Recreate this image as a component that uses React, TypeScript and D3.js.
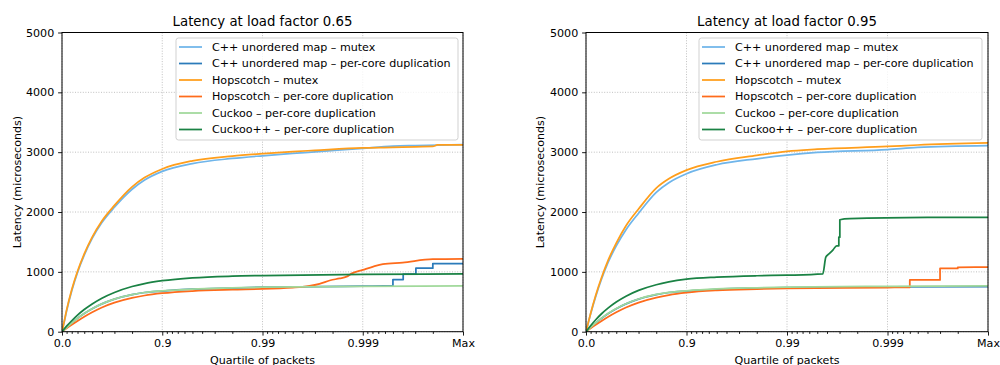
import { useEffect, useRef } from 'react';
import * as d3 from 'd3';

const SERIES_LABELS = [
  'C++ unordered map \u2013 mutex',
  'C++ unordered map \u2013 per-core duplication',
  'Hopscotch \u2013 mutex',
  'Hopscotch \u2013 per-core duplication',
  'Cuckoo \u2013 per-core duplication',
  'Cuckoo++ \u2013 per-core duplication',
];
const SERIES_COLORS = ['#6fb5ea', '#2b7bba', '#ff9e1b', '#fe6b1b', '#a1d99b', '#1a8244'];

const TITLES = ['Latency at load factor 0.65', 'Latency at load factor 0.95'];
const X_TICK_QUANTS = [0, 0.9, 0.99, 0.999, 0.9999];
const X_TICK_LABELS = ['0.0', '0.9', '0.99', '0.999', 'Max'];
const Y_TICKS = [0, 1000, 2000, 3000, 4000, 5000];

// [quartile, latency in microseconds]
const lf65CppMutex = [[0, 0], [0.05, 165], [0.1, 345], [0.2, 680], [0.3, 990], [0.4, 1280], [0.5, 1560], [0.6, 1825], [0.7, 2080], [0.8, 2380], [0.85, 2535], [0.9, 2680], [0.95, 2810], [0.98, 2895], [0.99, 2940], [0.995, 2980], [0.997, 3005], [0.999, 3065], [0.9995, 3100], [0.9997, 3110], [0.9999, 3125]];
const lf65CppDup = [[0, 0], [0.1, 70], [0.2, 145], [0.3, 225], [0.4, 305], [0.5, 385], [0.6, 465], [0.7, 545], [0.8, 620], [0.85, 655], [0.9, 680], [0.95, 710], [0.98, 730], [0.99, 743], [0.999, 760], [0.9995, 768], [0.9995, 871], [0.999605, 871], [0.999605, 961], [0.999705, 961], [0.999705, 1062], [0.9998, 1062], [0.9998, 1139], [0.9999, 1139]];
const lf65HopMutex = [[0, 0], [0.05, 172], [0.1, 360], [0.2, 700], [0.3, 1010], [0.4, 1300], [0.5, 1580], [0.6, 1850], [0.7, 2110], [0.8, 2420], [0.85, 2575], [0.9, 2720], [0.95, 2855], [0.98, 2935], [0.99, 2975], [0.995, 3010], [0.997, 3030], [0.999, 3070], [0.9995, 3080], [0.9997, 3090], [0.9998, 3095], [0.99982, 3120], [0.9999, 3122]];
const lf65HopDup = [[0, 0], [0.1, 55], [0.2, 115], [0.3, 180], [0.4, 250], [0.5, 325], [0.6, 405], [0.7, 485], [0.8, 565], [0.85, 605], [0.9, 643], [0.95, 680], [0.98, 703], [0.99, 715], [0.995, 738], [0.996, 750], [0.9966, 765], [0.9973, 800], [0.9979, 860], [0.9983, 890], [0.99855, 920], [0.99872, 975], [0.999, 1033], [0.999215, 1089], [0.99937, 1129], [0.9996, 1156], [0.9998, 1213], [0.9999, 1215]];
const lf65Cuckoo = [[0, 0], [0.1, 70], [0.2, 145], [0.3, 225], [0.4, 305], [0.5, 385], [0.6, 465], [0.7, 545], [0.8, 620], [0.85, 655], [0.9, 682], [0.95, 712], [0.98, 732], [0.99, 744], [0.999, 758], [0.9999, 765]];
const lf65CuckooPP = [[0, 0], [0.1, 92], [0.2, 183], [0.3, 277], [0.4, 370], [0.5, 464], [0.6, 560], [0.7, 656], [0.8, 755], [0.85, 805], [0.9, 852], [0.95, 900], [0.98, 928], [0.99, 938], [0.999, 957], [0.9999, 965]];

const lf95CppMutex = [[0, 0], [0.05, 145], [0.1, 295], [0.2, 590], [0.3, 880], [0.4, 1165], [0.5, 1435], [0.6, 1705], [0.7, 1980], [0.8, 2330], [0.85, 2490], [0.9, 2640], [0.95, 2790], [0.98, 2890], [0.99, 2950], [0.995, 2995], [0.999, 3044], [0.9995, 3080], [0.9999, 3110]];
const lf95CppDup = [[0, 0], [0.1, 70], [0.2, 145], [0.3, 225], [0.4, 305], [0.5, 385], [0.6, 465], [0.7, 545], [0.8, 620], [0.85, 655], [0.9, 680], [0.95, 708], [0.98, 728], [0.99, 738], [0.999, 750], [0.9999, 755]];
const lf95HopMutex = [[0, 0], [0.05, 152], [0.1, 305], [0.2, 610], [0.3, 905], [0.4, 1200], [0.5, 1480], [0.6, 1770], [0.7, 2050], [0.8, 2400], [0.85, 2555], [0.9, 2700], [0.95, 2840], [0.98, 2945], [0.99, 3015], [0.995, 3050], [0.999, 3095], [0.9995, 3120], [0.9999, 3155]];
const lf95HopDup = [[0, 0], [0.1, 55], [0.2, 115], [0.3, 180], [0.4, 250], [0.5, 325], [0.6, 405], [0.7, 487], [0.8, 570], [0.85, 612], [0.9, 652], [0.95, 690], [0.98, 713], [0.99, 725], [0.999, 738], [0.9994, 742], [0.9994, 866], [0.9997, 866], [0.9997, 1058], [0.9998, 1058], [0.9998, 1075], [0.9999, 1078]];
const lf95Cuckoo = [[0, 0], [0.1, 72], [0.2, 147], [0.3, 227], [0.4, 307], [0.5, 387], [0.6, 467], [0.7, 547], [0.8, 622], [0.85, 657], [0.9, 684], [0.95, 714], [0.98, 734], [0.99, 745], [0.999, 758], [0.9999, 764]];
const lf95CuckooPP = [[0, 0], [0.1, 100], [0.2, 200], [0.3, 300], [0.4, 398], [0.5, 496], [0.6, 593], [0.7, 690], [0.8, 785], [0.85, 832], [0.9, 877], [0.95, 912], [0.98, 935], [0.99, 944], [0.9956, 966], [0.99589, 1246], [0.99625, 1313], [0.99652, 1368], [0.99679, 1435], [0.99695, 1435], [0.99695, 1580], [0.99702, 1580], [0.99702, 1871], [0.99763, 1888], [0.9996, 1910], [0.9999, 1912]];

const PANELS = [
  { left: 62, right: 463, ylabelX: 20.7, legendX: 176, legendW: 282, title: TITLES[0],
    series: [lf65CppMutex, lf65CppDup, lf65HopMutex, lf65HopDup, lf65Cuckoo, lf65CuckooPP] },
  { left: 586, right: 988, ylabelX: 543.5, legendX: 699, legendW: 283, title: TITLES[1],
    series: [lf95CppMutex, lf95CppDup, lf95HopMutex, lf95HopDup, lf95Cuckoo, lf95CuckooPP] },
];

const TOP = 32.5;
const BOTTOM = 331.7;
const FONT = 'DejaVu Sans';
const FS = 11.1;

// "number of nines" of a quartile: 0.9 -> 1, 0.99 -> 2 ...
const nines = (q) => Math.min(4, -Math.log10(1 - q));

const minorQuants = () => {
  const out = [];
  for (let k = 0; k < 4; k++) {
    for (let j = 1; j <= 8; j++) out.push(1 - Math.pow(10, -k) * (1 - j / 10));
  }
  return out;
};

const App = () => {
  const svgRef = useRef();

  useEffect(() => {
    const svg = d3.select(svgRef.current);
    svg.selectAll('*').remove();

    PANELS.forEach((p, pi) => {
      const x = d3.scaleLinear().domain([0, 4]).range([p.left, p.right]);
      const y = d3.scaleLinear().domain([0, 5000]).range([BOTTOM, TOP]);
      const g = svg.append('g');

      // grid
      g.selectAll('.vgrid').data(X_TICK_QUANTS).enter().append('line')
        .attr('x1', d => x(nines(d))).attr('x2', d => x(nines(d)))
        .attr('y1', TOP).attr('y2', BOTTOM)
        .attr('stroke', '#b0b0b0').attr('stroke-width', 0.8).attr('stroke-dasharray', '1,1.6');
      g.selectAll('.hgrid').data(Y_TICKS).enter().append('line')
        .attr('x1', p.left).attr('x2', p.right)
        .attr('y1', d => y(d)).attr('y2', d => y(d))
        .attr('stroke', '#b0b0b0').attr('stroke-width', 0.8).attr('stroke-dasharray', '1,1.6');

      // lines
      const clipId = `clip${pi}`;
      g.append('clipPath').attr('id', clipId).append('rect')
        .attr('x', p.left).attr('y', TOP).attr('width', p.right - p.left).attr('height', BOTTOM - TOP);
      const line = d3.line()
        .x(d => x(nines(d[0])))
        .y(d => y(d[1]))
        .curve(d3.curveMonotoneX);
      g.append('g').attr('clip-path', `url(#${clipId})`)
        .selectAll('path').data(p.series).enter().append('path')
        .attr('d', d => line(d))
        .attr('fill', 'none')
        .attr('stroke', (d, i) => SERIES_COLORS[i])
        .attr('stroke-width', 1.75)
        .attr('stroke-linejoin', 'round');

      // axes
      const xAxis = d3.axisBottom(x)
        .tickValues(X_TICK_QUANTS.map(nines))
        .tickFormat((d, i) => X_TICK_LABELS[i])
        .tickSize(3.9).tickSizeOuter(0).tickPadding(3.9);
      const xa = g.append('g').attr('transform', `translate(0,${BOTTOM})`).call(xAxis);
      xa.select('.domain').remove();

      const xMinor = d3.axisBottom(x)
        .tickValues(minorQuants().map(nines))
        .tickFormat(() => '')
        .tickSize(2.2).tickSizeOuter(0);
      const xm = g.append('g').attr('transform', `translate(0,${BOTTOM})`).call(xMinor);
      xm.select('.domain').remove();

      const yAxis = d3.axisLeft(y).tickValues(Y_TICKS).tickFormat(d3.format('d'))
        .tickSize(3.9).tickSizeOuter(0).tickPadding(3.9);
      const ya = g.append('g').attr('transform', `translate(${p.left},0)`).call(yAxis);
      ya.select('.domain').remove();

      [xa, xm, ya].forEach(a => {
        a.attr('font-family', FONT).attr('font-size', FS);
        a.selectAll('line').attr('stroke', '#000').attr('stroke-width', 0.9);
        a.selectAll('text').attr('fill', '#000');
      });

      // spines
      g.append('rect')
        .attr('x', p.left).attr('y', TOP)
        .attr('width', p.right - p.left).attr('height', BOTTOM - TOP)
        .attr('fill', 'none').attr('stroke', '#000').attr('stroke-width', 1);

      // title and labels
      g.append('text')
        .attr('x', (p.left + p.right) / 2).attr('y', 25.5)
        .attr('text-anchor', 'middle')
        .attr('font-family', FONT).attr('font-size', 13.3)
        .text(p.title);
      g.append('text')
        .attr('x', (p.left + p.right) / 2).attr('y', 363.5)
        .attr('text-anchor', 'middle')
        .attr('font-family', FONT).attr('font-size', FS)
        .text('Quartile of packets');
      g.append('text')
        .attr('transform', `translate(${p.ylabelX},${(TOP + BOTTOM) / 2}) rotate(-90)`)
        .attr('text-anchor', 'middle')
        .attr('font-family', FONT).attr('font-size', FS)
        .text('Latency (microseconds)');

      // legend
      const lg = g.append('g');
      lg.append('rect')
        .attr('x', p.legendX).attr('y', 38)
        .attr('width', p.legendW).attr('height', 102)
        .attr('rx', 2.5)
        .attr('fill', 'white').attr('fill-opacity', 0.8)
        .attr('stroke', '#cccccc').attr('stroke-width', 0.9);
      SERIES_LABELS.forEach((label, i) => {
        const ly = 47 + i * 16.5;
        lg.append('line')
          .attr('x1', p.legendX + 3).attr('x2', p.legendX + 26)
          .attr('y1', ly).attr('y2', ly)
          .attr('stroke', SERIES_COLORS[i]).attr('stroke-width', 1.75);
        lg.append('text')
          .attr('x', p.legendX + 36).attr('y', ly).attr('dy', '0.36em')
          .attr('font-family', FONT).attr('font-size', FS)
          .text(label);
      });
    });
  }, []);

  return (
    <div style={{ position: 'absolute', left: 0, top: 0 }}>
      <svg ref={svgRef} width={1000} height={365} style={{ display: 'block', background: 'white' }}></svg>
    </div>
  );
};

export default App;
